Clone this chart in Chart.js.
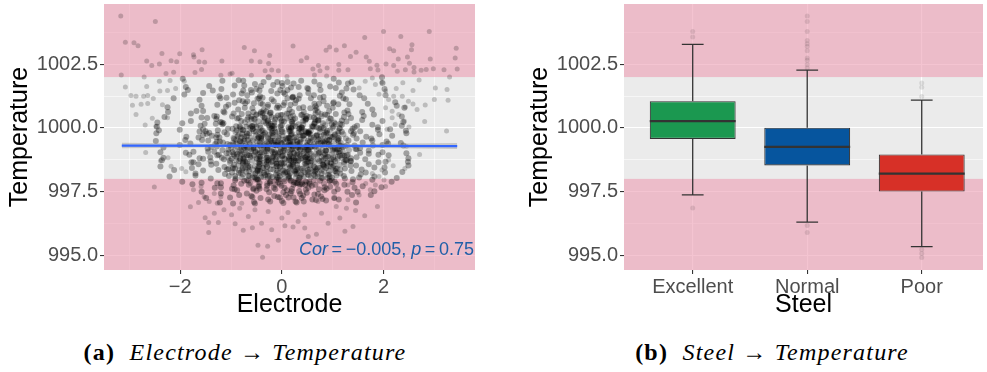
<!DOCTYPE html>
<html>
<head>
<meta charset="utf-8">
<script src="https://cdn.jsdelivr.net/npm/chart.js@4.4.0/dist/chart.umd.min.js"></script>
<style>
  body { margin: 0; background: #fff; }
  #page { position: relative; width: 987px; height: 372px; overflow: hidden; }
  canvas { position: absolute; top: 0; }
  #electrodeChart { left: 0; }
  #steelChart { left: 497px; }
  .caption {
    position: absolute; top: 339px; transform: translateX(-50%);
    font-family: 'Liberation Serif', 'DejaVu Serif', serif; font-size: 24px;
    letter-spacing: 1.2px; white-space: nowrap; color: #000;
  }
  .caption b { font-weight: bold; }
  .caption i { font-style: italic; }
</style>
</head>
<body>
<div id="page">
  <canvas id="electrodeChart" width="490" height="320"></canvas>
  <canvas id="steelChart" width="490" height="320"></canvas>
  <div class="caption" style="left:245px"><b>(a)</b>&nbsp; <i>Electrode</i> → <i>Temperature</i></div>
  <div class="caption" style="left:772px"><b>(b)</b>&nbsp; <i>Steel</i> → <i>Temperature</i></div>
</div>
<script>
// ---- shared temperature axis ----
const tempMin = 994.42;
const tempMax = 1004.87;
const tempTicks = [995, 997.5, 1000, 1002.5];
const tempTickLabels = ['995.0', '997.5', '1000.0', '1002.5'];
const tempMinorTicks = [996.25, 998.75, 1001.25, 1003.75];
const safeLow = 998;
const safeHigh = 1002;

// ---- electrode vs temperature ----
const electrodeMin = -3.5;
const electrodeMax = 3.8;
const electrodeTicks = [-2, 0, 2];
const electrodeTickLabels = ['\u22122', '0', '2'];
const electrodeMinorTicks = [-3, -1, 1, 3];

// isolated readings away from the centre of the cloud [electrode, temperature]
const outerReadings = [
  [-3.17,1004.40],[-2.49,1004.18],[-3.08,1003.37],[-2.91,1003.35],[-2.83,1003.23],[-2.36,1002.93],[-2.66,1002.63],
  [-2.56,1002.45],[-2.41,1002.51],[-2.18,1002.64],[-2.07,1002.60],[-2.01,1002.92],[-1.74,1002.88],[-1.73,1002.79],
  [-1.57,1003.07],[-1.63,1002.60],[-1.52,1002.58],[-1.18,1002.63],[-3.16,1002.08],[-2.28,1002.14],[-2.13,1002.19],
  [-1.71,1002.18],[-1.58,1002.30],[-1.20,1002.07],[-2.71,1002.00],[-3.08,1001.61],[-2.66,1001.63],[-2.97,1001.28],
  [-2.87,1001.25],[-2.72,1001.25],[-2.64,1001.28],[-2.94,1000.89],[-2.77,1000.93],[-2.64,1000.96],[-2.87,1000.53],
  [-2.53,1001.16],[-2.35,1000.91],[-2.40,1001.45],[-2.25,1001.47],[-2.69,1000.12],[-2.48,1000.07],[-2.25,1000.40],
  [-2.55,1000.38],[-2.41,1001.84],[-2.20,1001.86],[-2.09,1001.55],[-1.92,1001.84],
  [-0.74,1003.16],[-0.54,1003.03],[-0.24,1002.85],[-0.60,1002.63],[-0.43,1002.60],[-0.26,1002.53],[0.22,1003.22],
  [0.38,1002.64],[0.49,1002.76],[-0.33,1002.25],[-0.20,1002.28],[-0.07,1002.25],[-0.98,1002.15],[-1.02,1002.12],
  [-0.60,1002.07],[0.10,1002.02],[0.61,1002.32],[0.72,1002.45],[0.75,1002.25],[0.89,1002.36],[0.87,1003.05],
  [0.94,1003.18],[1.07,1003.06],[1.23,1003.23],[1.12,1002.49],[1.12,1002.27],[1.30,1002.29],[1.35,1002.81],
  [0.88,1002.04],[0.64,1002.08],
  [2.00,1003.79],[1.63,1003.55],[2.34,1003.59],[2.90,1003.79],[1.46,1002.97],[2.12,1003.11],[2.20,1003.03],
  [2.56,1003.27],[2.55,1003.07],[3.43,1003.13],[1.66,1002.79],[1.72,1002.62],[2.29,1002.71],[2.47,1002.79],
  [2.92,1002.71],[3.41,1002.75],[1.87,1002.46],[2.05,1002.51],[2.20,1002.45],[2.51,1002.54],[2.60,1002.38],
  [1.74,1002.33],[1.89,1002.28],[2.27,1002.23],[2.43,1002.29],[2.60,1002.20],[2.74,1002.27],[2.84,1002.30],
  [2.98,1002.33],[3.19,1002.29],[3.45,1002.32],[3.30,1002.00],[2.70,1001.88],[2.38,1001.78],[3.02,1001.57],
  [3.25,1001.51],[2.58,1001.47],[3.27,1001.09],[3.00,1001.12],[2.82,1000.90],[2.66,1000.73],[2.58,1000.94],
  [2.81,1000.25],[3.24,999.88],[2.50,1000.04],[2.41,1000.27],[2.30,1000.53],[2.17,1000.66],[2.43,1000.82],
  [2.25,1001.55],[2.20,1001.25],[2.37,1001.25],[2.49,1001.05],[2.10,1001.12],[1.97,1001.80],[2.04,1001.45],
  [1.84,1001.71],[1.78,1001.96],[1.64,1001.84],[1.52,1001.57],[1.91,1001.32],[2.04,1000.79],[2.17,1000.40],
  [2.23,1000.14],[2.07,999.95],
  [-2.68,999.04],[-2.39,998.71],[-2.24,998.83],[-2.18,998.50],[-1.97,998.41],[-2.51,997.68],[-1.80,996.90],
  [-1.64,997.07],[-1.74,997.57],[-1.53,997.30],[-1.43,997.11],[-1.51,996.47],[-1.44,996.29],[-1.25,996.29],
  [-1.44,995.89],[-1.33,996.65],[-1.27,997.04],[-1.14,996.79],[-1.59,997.70],[-1.33,997.43],[-1.20,997.30],
  [-1.89,998.28],
  [-0.47,995.39],[-0.28,995.35],[-0.38,994.92],[-0.07,995.59],[0.52,995.74],[0.68,995.82],[0.06,996.16],
  [0.22,996.11],[0.45,996.07],[-0.76,995.98],[-0.58,996.08],[-0.92,996.24],[-0.20,996.00],[-0.40,996.26],
  [1.14,996.46],[1.24,995.94],[0.91,996.26],[0.32,996.33],[0.00,996.46],[-0.66,996.52],[-0.99,996.59],
  [1.27,996.85],[1.07,996.91],[0.78,996.65],[0.45,996.59],[0.12,996.68],[-0.27,996.72],[-0.53,996.79],
  [-0.83,996.85],[1.30,997.18],[1.03,997.24],[0.71,997.11],[0.35,997.70],[-0.79,997.04],[1.30,997.76],
  [2.19,998.52],[2.42,998.41],[2.71,998.96],[2.45,999.28],[1.88,996.91],[1.63,996.55],[1.45,996.76],
  [1.40,996.13],[1.52,997.37],[1.74,997.57],[1.84,997.76],[2.01,997.96],[2.04,997.70],[1.91,998.09],
  [1.65,997.82],[2.10,998.74],[1.97,998.35],[1.78,998.21]
];

// the crowded middle of the cloud, read strip by strip from the bottom [electrode, temperature]
const innerReadings = [
  [-1.22,997.07],[-0.96,997.03],[-0.55,997.09],[-0.53,997.03],[-0.23,997.11],[-0.27,997.19],[0.03,997.05],[0,997.13],
  [0.27,997.11],[0.29,997.07],[0.43,997.11],[0.67,997.17],[0.6,997.19],[0.87,997.15],[1.12,997.19],[1.46,997.07],
  [-1.49,997.25],[-1.02,997.27],[-0.84,997.37],[-0.58,997.29],[-0.6,997.33],[-0.42,997.25],[-0.15,997.33],[-0.08,997.29],
  [-0.04,997.27],[0.13,997.27],[0.08,997.37],[0.23,997.27],[0.39,997.25],[0.42,997.35],[0.64,997.39],[0.77,997.31],
  [0.8,997.21],[1.03,997.25],[1.38,997.37],[1.75,997.37],
  [-1.58,997.49],[-1.2,997.43],[-0.93,997.59],[-0.88,997.55],[-0.69,997.43],[-0.5,997.53],[-0.56,997.59],[-0.25,997.47],
  [-0.3,997.59],[-0.13,997.59],[0.03,997.47],[0.1,997.55],[0.19,997.51],[0.17,997.43],[0.36,997.41],[0.34,997.51],
  [0.47,997.57],[0.49,997.45],[0.71,997.41],[0.73,997.59],[0.84,997.55],[1.03,997.49],[1.1,997.59],[1.29,997.49],
  [1.49,997.49],[1.82,997.51],
  [-1.76,997.79],[-1.32,997.65],[-1.2,997.67],[-0.98,997.61],[-0.95,997.75],[-0.65,997.77],[-0.56,997.63],[-0.46,997.73],
  [-0.45,997.69],[-0.44,997.61],[-0.29,997.73],[-0.16,997.65],[-0.13,997.77],[-0.01,997.73],[0.05,997.65],[0.2,997.61],
  [0.23,997.77],[0.4,997.79],[0.36,997.79],[0.46,997.77],[0.59,997.73],[0.52,997.65],[0.66,997.77],[0.88,997.61],
  [0.84,997.67],[0.95,997.69],[1.23,997.77],[1.43,997.65],[1.59,997.71],[1.96,997.67],
  [-1.96,997.89],[-1.58,997.85],[-1.27,997.83],[-1.2,997.83],[-0.92,997.95],[-0.8,997.81],[-0.74,997.93],[-0.69,997.95],
  [-0.48,997.99],[-0.47,997.97],[-0.44,997.85],[-0.24,997.83],[-0.23,997.89],[-0.11,997.97],[-0.04,997.81],[-0.06,997.97],
  [0.17,997.93],[0.05,997.91],[0.31,997.83],[0.24,997.87],[0.29,997.85],[0.33,997.97],[0.39,997.85],[0.54,997.87],
  [0.55,997.81],[0.75,997.93],[0.94,997.93],[1.04,997.89],[0.98,997.95],[1.07,997.81],[1.4,997.99],[1.39,997.87],
  [1.78,997.97],[2.16,997.89],
  [-2.21,998.09],[-1.7,998.13],[-1.4,998.01],[-1.12,998.19],[-1.04,998.11],[-0.92,998.11],[-0.91,998.01],[-0.64,998.11],
  [-0.77,998.17],[-0.58,998.05],[-0.53,998.05],[-0.41,998.07],[-0.28,998.03],[-0.33,998.15],[-0.09,998.05],[-0.24,998.11],
  [-0.18,998.07],[-0.04,998.11],[0.03,998.19],[0.12,998.09],[0.14,998.01],[0.38,998.17],[0.34,998.03],[0.36,998.05],
  [0.51,998.17],[0.43,998.09],[0.63,998.17],[0.8,998.03],[0.78,998.03],[0.9,998.03],[0.91,998.15],[0.94,998.09],
  [1.22,998.11],[1.24,998.01],[1.52,998.05],[1.55,998.17],[1.82,998.09],[2.26,998.03],
  [-2.12,998.35],[-1.7,998.21],[-1.55,998.33],[-1.25,998.35],[-1.05,998.39],[-1.08,998.37],[-0.98,998.25],[-0.85,998.23],
  [-0.64,998.29],[-0.78,998.37],[-0.52,998.21],[-0.47,998.37],[-0.48,998.33],[-0.43,998.31],[-0.35,998.23],[-0.28,998.27],
  [-0.09,998.25],[-0.17,998.37],[0.06,998.25],[0.1,998.27],[0.16,998.21],[0.02,998.33],[0.25,998.33],[0.26,998.29],
  [0.27,998.35],[0.29,998.21],[0.55,998.39],[0.52,998.27],[0.51,998.37],[0.65,998.29],[0.62,998.29],[0.67,998.33],
  [0.78,998.21],[1.06,998.39],[0.93,998.31],[1.05,998.31],[1.15,998.21],[1.37,998.31],[1.57,998.37],[1.65,998.25],
  [2.03,998.25],[2.37,998.27],
  [-2.39,998.49],[-1.77,998.43],[-1.64,998.57],[-1.39,998.55],[-1.29,998.59],[-1.13,998.47],[-0.92,998.41],[-0.94,998.55],
  [-0.96,998.41],[-0.67,998.45],[-0.77,998.43],[-0.66,998.51],[-0.45,998.49],[-0.48,998.41],[-0.31,998.57],[-0.43,998.59],
  [-0.37,998.43],[-0.29,998.49],[-0.1,998.59],[-0.11,998.59],[-0.04,998.47],[-0.09,998.49],[0.01,998.57],[0.22,998.57],
  [0.17,998.49],[0.16,998.43],[0.19,998.53],[0.3,998.55],[0.48,998.51],[0.37,998.41],[0.45,998.59],[0.71,998.45],
  [0.63,998.49],[0.83,998.49],[0.81,998.55],[0.82,998.53],[0.87,998.43],[0.96,998.49],[1.02,998.53],[1.24,998.41],
  [1.35,998.53],[1.46,998.53],[1.71,998.57],[1.82,998.45],[2.02,998.45],[2.49,998.53],
  [-2.36,998.73],[-1.78,998.65],[-1.74,998.65],[-1.55,998.79],[-1.4,998.69],[-1.14,998.77],[-0.99,998.79],[-1.02,998.71],
  [-0.84,998.69],[-0.75,998.79],[-0.72,998.67],[-0.76,998.61],[-0.68,998.67],[-0.44,998.77],[-0.46,998.63],[-0.41,998.79],
  [-0.28,998.73],[-0.3,998.69],[-0.26,998.69],[-0.21,998.65],[-0.12,998.77],[-0.05,998.77],[-0.01,998.63],[0.04,998.61],
  [0.05,998.79],[0.15,998.75],[0.18,998.71],[0.33,998.73],[0.24,998.73],[0.27,998.71],[0.51,998.79],[0.49,998.67],
  [0.52,998.67],[0.74,998.69],[0.58,998.69],[0.81,998.73],[0.89,998.63],[0.96,998.65],[0.98,998.77],[1.05,998.69],
  [1.25,998.75],[1.35,998.71],[1.28,998.73],[1.36,998.69],[1.64,998.77],[1.9,998.65],[2.04,998.67],[2.48,998.67],
  [-2.33,998.83],[-1.82,998.95],[-1.62,998.81],[-1.41,998.85],[-1.24,998.95],[-1.27,998.93],[-1.18,998.83],[-0.95,998.97],
  [-0.89,998.87],[-0.88,998.97],[-0.68,998.93],[-0.76,998.81],[-0.65,998.93],[-0.62,998.85],[-0.55,998.93],[-0.29,998.83],
  [-0.44,998.87],[-0.17,998.87],[-0.3,998.83],[-0.19,998.87],[-0.08,998.97],[0,998.89],[0.02,998.91],[0.16,998.97],
  [0.14,998.87],[0.23,998.81],[0.28,998.81],[0.4,998.81],[0.3,998.95],[0.37,998.91],[0.47,998.85],[0.57,998.81],
  [0.49,998.89],[0.62,998.89],[0.72,998.99],[0.88,998.87],[0.91,998.87],[0.85,998.97],[1.01,998.85],[1.19,998.93],
  [1.23,998.91],[1.28,998.93],[1.36,998.81],[1.47,998.85],[1.71,998.99],[1.9,998.95],[2.1,998.93],[2.49,998.81],
  [-2.39,999.05],[-1.89,999.03],[-1.74,999.07],[-1.45,999.07],[-1.46,999.19],[-1.33,999.07],[-1.17,999.13],[-1.09,999.01],
  [-1.05,999.15],[-0.97,999.05],[-0.72,999.13],[-0.82,999.01],[-0.52,999.05],[-0.61,999.09],[-0.56,999.19],[-0.35,999.03],
  [-0.31,999.09],[-0.43,999.03],[-0.14,999.05],[-0.29,999.15],[-0.19,999.07],[-0.02,999.15],[-0.04,999.05],[0.02,999.09],
  [0.05,999.11],[0.21,999.17],[0.19,999.15],[0.31,999.01],[0.23,999.01],[0.36,999.13],[0.51,999.13],[0.43,999.01],
  [0.52,999.13],[0.54,999.07],[0.73,999.03],[0.86,999.11],[0.87,999.11],[1.01,999.17],[1.04,999.17],[1.12,999.03],
  [1.09,999.15],[1.14,999.09],[1.47,999.17],[1.45,999.17],[1.54,999.03],[1.71,999.11],[1.98,999.05],[2.45,999.01],
  [-2.33,999.23],[-2.01,999.33],[-1.8,999.39],[-1.39,999.25],[-1.31,999.37],[-1.28,999.27],[-1.02,999.33],[-1.07,999.37],
  [-0.81,999.23],[-0.9,999.39],[-0.75,999.21],[-0.69,999.25],[-0.71,999.31],[-0.43,999.31],[-0.56,999.23],[-0.35,999.31],
  [-0.4,999.23],[-0.28,999.21],[-0.26,999.37],[-0.12,999.33],[-0.11,999.31],[-0.08,999.35],[0.05,999.29],[0.13,999.33],
  [0.22,999.27],[0.3,999.35],[0.18,999.35],[0.31,999.25],[0.47,999.23],[0.33,999.23],[0.45,999.23],[0.58,999.25],
  [0.5,999.31],[0.56,999.25],[0.65,999.27],[0.71,999.37],[0.84,999.39],[0.92,999.35],[0.93,999.37],[1.13,999.29],
  [1.17,999.29],[1.2,999.25],[1.43,999.31],[1.54,999.21],[1.79,999.31],[1.98,999.33],[2.09,999.39],[2.39,999.31],
  [-2.48,999.49],[-1.9,999.53],[-1.57,999.53],[-1.45,999.51],[-1.28,999.45],[-1.16,999.43],[-1.22,999.47],[-0.94,999.57],
  [-0.82,999.49],[-0.79,999.43],[-0.74,999.49],[-0.67,999.53],[-0.48,999.59],[-0.4,999.51],[-0.43,999.43],[-0.27,999.59],
  [-0.21,999.49],[-0.19,999.43],[-0.14,999.51],[-0.02,999.43],[-0.08,999.43],[0.03,999.53],[0.14,999.41],[0.15,999.59],
  [0.16,999.49],[0.22,999.47],[0.3,999.47],[0.35,999.41],[0.52,999.51],[0.37,999.55],[0.55,999.45],[0.72,999.55],
  [0.76,999.41],[0.81,999.47],[0.93,999.53],[0.86,999.51],[0.89,999.55],[1.11,999.51],[1.12,999.59],[1.31,999.51],
  [1.47,999.59],[1.59,999.43],[1.76,999.59],[1.78,999.51],[2.06,999.47],[2.34,999.41],
  [-2.47,999.79],[-1.88,999.65],[-1.64,999.63],[-1.48,999.77],[-1.27,999.73],[-1.29,999.63],[-1.23,999.63],[-1.08,999.75],
  [-0.87,999.67],[-0.78,999.77],[-0.8,999.63],[-0.64,999.79],[-0.69,999.67],[-0.46,999.65],[-0.36,999.73],[-0.45,999.63],
  [-0.41,999.63],[-0.24,999.75],[-0.19,999.79],[-0.18,999.67],[-0.07,999.63],[0.12,999.61],[0.18,999.71],[0.25,999.63],
  [0.14,999.63],[0.2,999.77],[0.44,999.71],[0.41,999.69],[0.53,999.77],[0.57,999.61],[0.56,999.75],[0.69,999.69],
  [0.67,999.69],[0.83,999.73],[1.01,999.65],[0.95,999.67],[1.04,999.75],[1.11,999.79],[1.42,999.79],[1.4,999.73],
  [1.66,999.65],[1.92,999.75],[2.17,999.69],[2.45,999.79],[-1.55,999.72],[-1.43,999.81],[-1.62,999.86],[-1.38,999.69],
  [-2.42,999.91],[-2.01,999.93],[-1.55,999.95],[-1.5,999.87],[-1.26,999.91],[-1.13,999.83],[-0.97,999.97],[-1.06,999.97],
  [-0.89,999.91],[-0.81,999.95],[-0.77,999.91],[-0.51,999.85],[-0.58,999.95],[-0.44,999.85],[-0.4,999.89],[-0.21,999.97],
  [-0.15,999.99],[-0.13,999.83],[0,999.85],[-0.08,999.85],[0.14,999.95],[0.18,999.99],[0.15,999.87],[0.34,999.97],
  [0.33,999.83],[0.35,999.97],[0.46,999.87],[0.51,999.81],[0.48,999.83],[0.53,999.83],[0.73,999.99],[0.89,999.89],
  [0.82,999.99],[0.86,999.83],[1.18,999.85],[1.14,999.99],[1.39,999.97],[1.36,999.87],[1.54,999.87],[1.89,999.93],
  [2.13,999.95],[2.44,999.89],
  [-2.46,1000.05],[-1.96,1000.19],[-1.6,1000.09],[-1.52,1000.17],[-1.3,1000.17],[-1.17,1000.15],[-1.15,1000.19],[-0.9,1000.07],
  [-0.83,1000.07],[-0.7,1000.05],[-0.62,1000.01],[-0.59,1000.07],[-0.54,1000.13],[-0.5,1000.05],[-0.26,1000.11],[-0.24,1000.01],
  [-0.31,1000.19],[-0.2,1000.09],[-0.15,1000.09],[-0.03,1000.07],[0.18,1000.03],[0.13,1000.03],[0.33,1000.15],[0.27,1000.07],
  [0.4,1000.01],[0.39,1000.03],[0.61,1000.05],[0.59,1000.07],[0.64,1000.17],[0.68,1000.03],[0.81,1000.19],[0.98,1000.15],
  [1.0,1000.01],[1.18,1000.13],[1.15,1000.17],[1.48,1000.09],[1.43,1000.03],[1.78,1000.13],[1.89,1000.03],[2.36,1000.09],
  [-2.45,1000.21],[-1.79,1000.27],[-1.47,1000.39],[-1.29,1000.35],[-1.18,1000.21],[-1.21,1000.23],[-0.85,1000.39],[-0.88,1000.37],
  [-0.8,1000.27],[-0.6,1000.35],[-0.68,1000.33],[-0.55,1000.35],[-0.34,1000.39],[-0.27,1000.27],[-0.36,1000.25],[-0.15,1000.21],
  [-0.13,1000.33],[0.1,1000.37],[-0.01,1000.27],[0.04,1000.25],[0.26,1000.37],[0.2,1000.25],[0.42,1000.27],[0.48,1000.35],
  [0.47,1000.33],[0.72,1000.29],[0.66,1000.33],[0.71,1000.29],[0.95,1000.37],[1.03,1000.21],[1.18,1000.29],[1.27,1000.25],
  [1.36,1000.39],[1.58,1000.31],[1.98,1000.27],[2.39,1000.23],
  [-2.31,1000.43],[-1.79,1000.57],[-1.58,1000.41],[-1.28,1000.45],[-1.33,1000.47],[-0.98,1000.45],[-0.95,1000.57],[-0.79,1000.55],
  [-0.66,1000.57],[-0.6,1000.45],[-0.5,1000.51],[-0.34,1000.41],[-0.38,1000.59],[-0.42,1000.57],[-0.2,1000.43],[-0.23,1000.59],
  [-0.08,1000.49],[-0.02,1000.51],[0.01,1000.51],[0.1,1000.57],[0.17,1000.43],[0.38,1000.51],[0.49,1000.47],[0.63,1000.41],
  [0.55,1000.43],[0.66,1000.55],[0.89,1000.51],[0.85,1000.53],[1.06,1000.55],[1.22,1000.43],[1.31,1000.55],[1.61,1000.47],
  [1.81,1000.53],[2.36,1000.45],
  [-2.24,1000.63],[-1.68,1000.67],[-1.55,1000.67],[-1.15,1000.65],[-1.13,1000.61],[-0.86,1000.73],[-0.73,1000.79],[-0.58,1000.77],
  [-0.56,1000.63],[-0.41,1000.63],[-0.31,1000.65],[-0.36,1000.71],[-0.22,1000.61],[-0.1,1000.79],[-0.05,1000.79],[0.15,1000.73],
  [0.2,1000.63],[0.34,1000.77],[0.43,1000.63],[0.56,1000.77],[0.68,1000.77],[0.71,1000.63],[0.66,1000.71],[1.0,1000.79],
  [0.93,1000.67],[1.23,1000.61],[1.29,1000.69],[1.58,1000.63],[1.78,1000.73],[2.41,1000.79],
  [-2.25,1000.81],[-1.58,1000.87],[-1.27,1000.91],[-1.1,1000.83],[-1.05,1000.91],[-0.93,1000.99],[-0.72,1000.97],[-0.55,1000.97],
  [-0.38,1000.93],[-0.42,1000.97],[-0.27,1000.91],[-0.28,1000.83],[0.05,1000.99],[-0.08,1000.87],[0.03,1000.89],[0.17,1000.91],
  [0.26,1000.97],[0.42,1000.81],[0.64,1000.95],[0.66,1000.85],[0.73,1000.95],[0.89,1000.87],[1.01,1000.97],[1.11,1000.93],
  [1.33,1000.93],[1.69,1000.95],[2.26,1000.87],
  [-2.13,1001.17],[-1.62,1001.11],[-1.21,1001.17],[-1.09,1001.19],[-0.84,1001.09],[-0.77,1001.05],[-0.68,1001.05],[-0.45,1001.17],
  [-0.48,1001.15],[-0.38,1001.19],[-0.16,1001.05],[-0.2,1001.13],[0.11,1001.17],[0.28,1001.09],[0.21,1001.19],[0.33,1001.15],
  [0.57,1001.17],[0.75,1001.19],[0.82,1001.05],[1.02,1001.01],[1.21,1001.17],[1.26,1001.13],[1.62,1001.17],[2.23,1001.01],
  [-1.92,1001.31],[-1.55,1001.37],[-1.23,1001.25],[-0.96,1001.31],[-0.79,1001.35],[-0.68,1001.29],[-0.59,1001.39],[-0.43,1001.25],
  [-0.09,1001.35],[0.03,1001.39],[0.06,1001.33],[0.22,1001.23],[0.21,1001.21],[0.35,1001.29],[0.52,1001.37],[0.63,1001.29],
  [0.82,1001.23],[1.18,1001.39],[1.14,1001.27],[1.53,1001.29],[2.04,1001.29],
  [-1.85,1001.49],[-1.36,1001.47],[-1.19,1001.53],[-0.76,1001.47],[-0.61,1001.49],[-0.5,1001.53],[-0.44,1001.47],[-0.21,1001.45],
  [-0.03,1001.49],[0.11,1001.49],[0.18,1001.59],[0.52,1001.53],[0.5,1001.57],[0.76,1001.49],[1.06,1001.57],[1.27,1001.55],
  [1.41,1001.51],[2.02,1001.53],
  [-1.89,1001.61],[-1.43,1001.65],[-0.93,1001.67],[-0.74,1001.67],[-0.53,1001.73],[-0.41,1001.65],[-0.17,1001.69],[0,1001.77],
  [0.01,1001.65],[0.23,1001.75],[0.33,1001.61],[0.74,1001.69],[0.95,1001.63],[1.12,1001.79],[1.3,1001.75],[1.98,1001.77],
  [-1.95,1001.93],[-1.17,1001.85],[-0.85,1001.87],[-0.76,1001.85],[-0.36,1001.81],[-0.26,1001.99],[-0.09,1001.81],[0.11,1001.81],
  [0.38,1001.85],[0.64,1001.83],[1.02,1001.93],[1.37,1001.81],[1.97,1001.99]
];

// the darkest patch, where readings pile on top of each other [electrode, temperature]
const coreReadings = [
  [-0.62,997.84],[-0.29,997.81],[-0.07,997.87],[0.27,997.83],[0.49,997.88],[0.83,997.82],
  [-0.66,997.93],[-0.51,997.97],[-0.22,997.91],[0.03,997.98],[0.18,997.94],[0.47,997.9],[0.63,997.96],[0.94,997.92],
  [-0.79,998.05],[-0.5,998.01],[-0.36,998.08],[-0.07,998.03],[0.14,998.07],[0.27,998.02],[0.57,998.06],[0.7,998.09],[0.99,998.04],
  [-0.66,998.13],[-0.53,998.18],[-0.27,998.11],[-0.12,998.16],[0.14,998.12],[0.27,998.19],[0.53,998.14],[0.66,998.1],[0.94,998.17],[1.07,998.13],
  [-0.81,998.24],[-0.7,998.28],[-0.43,998.21],[-0.31,998.27],[-0.05,998.23],[0.07,998.29],[0.33,998.22],[0.45,998.26],[0.71,998.2],[0.83,998.28],[1.08,998.24],
  [-0.84,998.33],[-0.58,998.37],[-0.48,998.31],[-0.22,998.38],[-0.1,998.34],[0.14,998.3],[0.3,998.36],[0.42,998.32],[0.68,998.39],[0.78,998.35],[1.04,998.31],[1.15,998.37],
  [-0.97,998.45],[-0.72,998.41],[-0.63,998.48],[-0.38,998.43],[-0.29,998.47],[-0.03,998.42],[0.06,998.49],[0.31,998.44],[0.4,998.4],[0.65,998.46],[0.75,998.43],[1.0,998.48],[1.09,998.41],
  [-0.86,998.53],[-0.77,998.57],[-0.53,998.51],[-0.44,998.58],[-0.19,998.54],[-0.11,998.5],[0.14,998.56],[0.22,998.52],[0.47,998.59],[0.56,998.53],[0.8,998.57],[0.9,998.51],[1.13,998.55],[1.23,998.59],
  [-1.02,998.62],[-0.77,998.66],[-0.69,998.61],[-0.44,998.68],[-0.35,998.63],[-0.11,998.67],[-0.02,998.6],[0.22,998.65],[0.31,998.69],[0.56,998.62],[0.64,998.67],[0.89,998.64],[0.97,998.6],[1.22,998.66],
  [-0.9,998.73],[-0.82,998.77],[-0.58,998.71],[-0.49,998.78],[-0.26,998.74],[-0.18,998.7],[0.06,998.76],[0.14,998.72],[0.38,998.79],[0.46,998.73],[0.7,998.77],[0.78,998.71],[1.02,998.75],[1.1,998.79],[1.26,998.72],
  [-1.06,998.84],[-0.82,998.8],[-0.74,998.87],[-0.5,998.82],[-0.42,998.88],[-0.18,998.83],[-0.1,998.89],[0.14,998.81],[0.22,998.86],[0.46,998.84],[0.54,998.8],[0.78,998.87],[0.86,998.82],[1.1,998.88],[1.18,998.83],
  [-0.94,998.92],[-0.78,998.97],[-0.62,998.91],[-0.46,998.98],[-0.3,998.93],[-0.14,998.99],[0.02,998.94],[0.18,998.9],[0.34,998.96],[0.5,998.92],[0.66,998.98],[0.82,998.93],[0.98,998.97],[1.14,998.91],[1.3,998.95],
  [-1.04,999.03],[-0.84,999.07],[-0.72,999.01],[-0.52,999.08],[-0.4,999.04],[-0.2,999.09],[-0.08,999.02],[0.12,999.06],[0.24,999.03],[0.44,999.08],[0.56,999.01],[0.76,999.05],[0.88,999.09],[1.08,999.04],[1.2,999.07],
  [-0.92,999.14],[-0.8,999.1],[-0.6,999.17],[-0.48,999.12],[-0.28,999.18],[-0.16,999.13],[0.04,999.19],[0.16,999.11],[0.36,999.16],[0.48,999.12],[0.68,999.18],[0.8,999.14],[1.0,999.1],[1.12,999.17],[1.32,999.13],
  [-1.0,999.22],[-0.88,999.26],[-0.68,999.21],[-0.56,999.28],[-0.36,999.24],[-0.24,999.29],[-0.04,999.23],[0.08,999.27],[0.28,999.2],[0.4,999.25],[0.6,999.29],[0.72,999.22],[0.92,999.26],[1.04,999.21],[1.24,999.28],
  [-0.96,999.34],[-0.8,999.3],[-0.64,999.37],[-0.48,999.32],[-0.32,999.38],[-0.16,999.33],[0.0,999.39],[0.16,999.31],[0.32,999.36],[0.48,999.32],[0.64,999.38],[0.8,999.34],[0.96,999.3],[1.12,999.37],[1.28,999.33],
  [-0.96,999.42],[-0.83,999.47],[-0.63,999.41],[-0.5,999.48],[-0.29,999.43],[-0.17,999.49],[0.04,999.44],[0.16,999.4],[0.37,999.46],[0.5,999.42],[0.7,999.48],[0.83,999.43],[1.03,999.47],[1.16,999.41],
  [-0.9,999.53],[-0.73,999.57],[-0.57,999.51],[-0.4,999.58],[-0.23,999.54],[-0.07,999.5],[0.1,999.56],[0.26,999.52],[0.43,999.59],[0.6,999.53],[0.76,999.57],[0.93,999.51],[1.09,999.55],[1.26,999.59],
  [-0.95,999.62],[-0.74,999.66],[-0.61,999.61],[-0.4,999.68],[-0.27,999.63],[-0.05,999.67],[0.08,999.6],[0.29,999.65],[0.42,999.69],[0.63,999.62],[0.77,999.67],[0.98,999.64],[1.11,999.6],
  [-0.85,999.73],[-0.68,999.77],[-0.51,999.71],[-0.34,999.78],[-0.17,999.74],[0.01,999.7],[0.18,999.76],[0.35,999.72],[0.52,999.79],[0.69,999.73],[0.87,999.77],[1.04,999.71],[1.21,999.75],
  [-0.91,999.84],[-0.69,999.8],[-0.55,999.87],[-0.33,999.82],[-0.19,999.88],[0.03,999.83],[0.17,999.89],[0.39,999.81],[0.53,999.86],[0.75,999.84],[0.89,999.8],[1.11,999.87],
  [-0.76,999.92],[-0.57,999.97],[-0.38,999.91],[-0.19,999.98],[0.0,999.93],[0.19,999.99],[0.38,999.94],[0.57,999.9],[0.76,999.96],[0.95,999.92],[1.13,999.98],
  [-0.82,1000.03],[-0.58,1000.07],[-0.42,1000.01],[-0.18,1000.08],[-0.02,1000.04],[0.22,1000.09],[0.38,1000.02],[0.62,1000.06],[0.78,1000.03],[1.02,1000.08],
  [-0.64,1000.14],[-0.43,1000.1],[-0.22,1000.17],[0.0,1000.12],[0.21,1000.18],[0.42,1000.13],[0.64,1000.19],[0.85,1000.11],[1.06,1000.16],
  [-0.73,1000.22],[-0.46,1000.26],[-0.27,1000.21],[0.0,1000.28],[0.19,1000.24],[0.46,1000.29],[0.65,1000.23],[0.92,1000.27],
  [-0.53,1000.34],[-0.28,1000.3],[-0.03,1000.37],[0.22,1000.32],[0.47,1000.38],[0.72,1000.33],[0.97,1000.36],
  [-0.66,1000.42],[-0.38,1000.47],[-0.12,1000.41],[0.22,1000.48],[0.44,1000.43],[0.78,1000.46],
  [-0.5,1000.54],[-0.24,1000.51],[0.13,1000.57],[0.4,1000.52],[0.77,1000.55]
];

// linear fit with its confidence band
const fitElectrode = [-3.15, 0, 3.45];
const fitTemperature = [999.31, 999.30, 999.29];
const fitLower = [999.20, 999.26, 999.17];
const fitUpper = [999.42, 999.34, 999.41];
const corText = '\u22120.005';
const pText = '0.75';

// ---- steel grade boxplots ----
const steelGrades = ['Excellent', 'Normal', 'Poor'];
const whiskerLow = [997.37, 996.30, 995.34];
const quartile1 = [999.57, 998.53, 997.50];
const medianTemp = [1000.27, 999.26, 998.21];
const quartile3 = [1001.05, 1000.01, 998.96];
const whiskerHigh = [1003.28, 1002.27, 1001.09];
const steelOutliers = [
  [1003.79, 1003.57, 996.86],
  [1004.40, 1004.18, 1003.79, 1003.44, 1003.31, 1003.20, 1003.03, 1002.75, 1002.66, 1002.49, 1002.36, 996.17, 995.89],
  [1001.77, 1001.60, 1001.24, 995.23, 995.07, 994.91]
];
const steelMin = 0.4;
const steelMax = 3.535;

const FONT = "'Liberation Sans', Arial, sans-serif";
const steelColors = ['#1B9850', '#06559E', '#D73027'];

const panelBackground = {
  id: 'panelBackground',
  beforeDraw(chart) {
    const { ctx, chartArea: a } = chart;
    ctx.save();
    ctx.fillStyle = '#EBEBEB';
    ctx.fillRect(a.left, a.top, a.width, a.height);
    ctx.restore();
  },
  // out-of-range bands sit above the grid but under the data
  beforeDatasetsDraw(chart) {
    const { ctx, chartArea: a, scales: { y } } = chart;
    const hi = y.getPixelForValue(safeHigh);
    const lo = y.getPixelForValue(safeLow);
    ctx.save();
    ctx.fillStyle = 'rgba(237,160,180,0.62)';
    ctx.fillRect(a.left, a.top, a.width, hi - a.top);
    ctx.fillRect(a.left, lo, a.width, a.bottom - lo);
    ctx.restore();
  }
};

function isMinor(ctx, minors) {
  return ctx.tick && minors.includes(ctx.tick.value);
}

function noOverhang(s) {
  s.paddingTop = 0;
  s.paddingBottom = 0;
  s.paddingLeft = 0;
  s.paddingRight = 0;
}

function temperatureAxis(boxWidth) {
  return {
    min: tempMin,
    max: tempMax,
    afterBuildTicks: s => { s.ticks = [...tempTicks, ...tempMinorTicks].sort((a, b) => a - b).map(v => ({ value: v })); },
    afterFit: s => { s.width = boxWidth; noOverhang(s); },
    border: { display: false },
    grid: {
      color: '#FFFFFF',
      lineWidth: c => isMinor(c, tempMinorTicks) ? 0.55 : 1.1,
      tickColor: c => isMinor(c, tempMinorTicks) ? 'rgba(0,0,0,0)' : '#333333',
      tickLength: 4,
      tickWidth: 1.1
    },
    ticks: {
      autoSkip: false,
      padding: 2,
      color: '#4D4D4D',
      font: { family: FONT, size: 20 },
      callback: v => { const k = tempTicks.indexOf(v); return k < 0 ? '' : tempTickLabels[k]; }
    },
    title: { display: true, text: 'Temperature', color: '#000', font: { family: FONT, size: 25 }, padding: { top: 4, bottom: 0 } }
  };
}

function bottomAxis(title, min, max, majors, minors, labelFor) {
  return {
    type: 'linear',
    min, max,
    offset: false,
    afterBuildTicks: s => { s.ticks = [...majors, ...minors].sort((a, b) => a - b).map(v => ({ value: v })); },
    afterFit: s => { s.height = 50; noOverhang(s); },
    border: { display: false },
    grid: {
      offset: false,
      color: '#FFFFFF',
      lineWidth: c => isMinor(c, minors) ? 0.55 : 1.1,
      tickColor: c => isMinor(c, minors) ? 'rgba(0,0,0,0)' : '#333333',
      tickLength: 4,
      tickWidth: 1.1
    },
    ticks: {
      autoSkip: false,
      maxRotation: 0,
      padding: 1,
      color: '#4D4D4D',
      font: { family: FONT, size: 20 },
      callback: labelFor
    },
    title: { display: true, text: title, color: '#000', font: { family: FONT, size: 25 }, padding: { top: 0, bottom: 0 } }
  };
}

const corLabel = {
  id: 'corLabel',
  afterDatasetsDraw(chart) {
    const { ctx, chartArea, scales: { y } } = chart;
    const parts = [['Cor', true], ['\u2009=\u2009', false], [corText + ', ', false], ['p', true], ['\u2009=\u2009', false], [pText, false]];
    const fontFor = it => (it ? 'italic ' : '') + '18px ' + FONT;
    ctx.save();
    let w = 0;
    for (const [t, it] of parts) { ctx.font = fontFor(it); w += ctx.measureText(t).width; }
    let x = chartArea.right - 1 - w;
    const base = y.getPixelForValue(995);
    ctx.fillStyle = '#1F5FA8';
    ctx.textBaseline = 'alphabetic';
    for (const [t, it] of parts) {
      ctx.font = fontFor(it);
      ctx.fillText(t, x, base);
      x += ctx.measureText(t).width;
    }
    ctx.restore();
  }
};

const toPoints = rows => rows.map(([x, y]) => ({ x, y }));
const seriesFrom = (xs, ys) => xs.map((x, i) => ({ x, y: ys[i] }));

new Chart(document.getElementById('electrodeChart'), {
  type: 'scatter',
  data: {
    datasets: [
      { data: seriesFrom(fitElectrode, fitTemperature), showLine: true, borderColor: '#3366FF', borderWidth: 2.2, pointRadius: 0, order: 0 },
      { data: seriesFrom(fitElectrode, fitUpper), showLine: true, borderColor: 'rgba(0,0,0,0)', pointRadius: 0, fill: '+1', backgroundColor: 'rgba(153,153,153,0.45)', order: 1 },
      { data: seriesFrom(fitElectrode, fitLower), showLine: true, borderColor: 'rgba(0,0,0,0)', pointRadius: 0, order: 1 },
      { data: toPoints(innerReadings), pointRadius: 3.0, pointBorderWidth: 0, pointBackgroundColor: 'rgba(0,0,0,0.32)', order: 2 },
      { data: toPoints(outerReadings), pointRadius: 2.5, pointBorderWidth: 0, pointBackgroundColor: 'rgba(0,0,0,0.2)', order: 3 },
      { data: toPoints(coreReadings), pointRadius: 3.0, pointBorderWidth: 0, pointBackgroundColor: 'rgba(0,0,0,0.26)', order: 4 }
    ]
  },
  options: {
    responsive: false,
    animation: false,
    events: [],
    layout: { padding: { top: 2, right: 15, left: 1, bottom: 0 } },
    plugins: { legend: { display: false }, tooltip: { enabled: false } },
    scales: {
      x: bottomAxis('Electrode', electrodeMin, electrodeMax, electrodeTicks, electrodeMinorTicks,
        v => { const k = electrodeTicks.indexOf(v); return k < 0 ? '' : electrodeTickLabels[k]; }),
      y: temperatureAxis(103)
    }
  },
  plugins: [panelBackground, corLabel]
});

// whiskers and caps as broken line segments
const whiskerSegments = [];
const medianSegments = [];
steelGrades.forEach((g, i) => {
  const x = i + 1;
  whiskerSegments.push({ x, y: quartile3[i] }, { x, y: whiskerHigh[i] }, { x, y: null });
  whiskerSegments.push({ x, y: quartile1[i] }, { x, y: whiskerLow[i] }, { x, y: null });
  whiskerSegments.push({ x: x - 0.095, y: whiskerHigh[i] }, { x: x + 0.095, y: whiskerHigh[i] }, { x, y: null });
  whiskerSegments.push({ x: x - 0.095, y: whiskerLow[i] }, { x: x + 0.095, y: whiskerLow[i] }, { x, y: null });
  medianSegments.push({ x: x - 0.375, y: medianTemp[i] }, { x: x + 0.375, y: medianTemp[i] }, { x, y: null });
});
const outlierPoints = steelOutliers.flatMap((vals, i) => vals.map(v => ({ x: i + 1, y: v })));

new Chart(document.getElementById('steelChart'), {
  type: 'scatter',
  data: {
    datasets: [
      { type: 'line', data: medianSegments, borderColor: '#333333', borderWidth: 2.2, pointRadius: 0, spanGaps: false, order: 0 },
      {
        type: 'bar',
        data: steelGrades.map((g, i) => ({ x: i + 1, y: [quartile1[i], quartile3[i]] })),
        backgroundColor: steelColors,
        borderColor: '#333333',
        borderWidth: 1.1,
        borderSkipped: false,
        categoryPercentage: 1,
        barPercentage: 0.75,
        order: 1
      },
      { type: 'line', data: whiskerSegments, borderColor: '#333333', borderWidth: 1.3, pointRadius: 0, spanGaps: false, order: 2 },
      { type: 'scatter', data: outlierPoints, pointRadius: 2.5, pointBorderWidth: 0, pointBackgroundColor: 'rgba(0,0,0,0.1)', order: 3 }
    ]
  },
  options: {
    responsive: false,
    animation: false,
    events: [],
    layout: { padding: { top: 2, right: 0, left: 24, bottom: 0 } },
    plugins: { legend: { display: false }, tooltip: { enabled: false } },
    scales: {
      x: bottomAxis('Steel', steelMin, steelMax, [1, 2, 3], [],
        v => steelGrades[v - 1] || ''),
      y: temperatureAxis(103)
    }
  },
  plugins: [panelBackground]
});
</script>
</body>
</html>
